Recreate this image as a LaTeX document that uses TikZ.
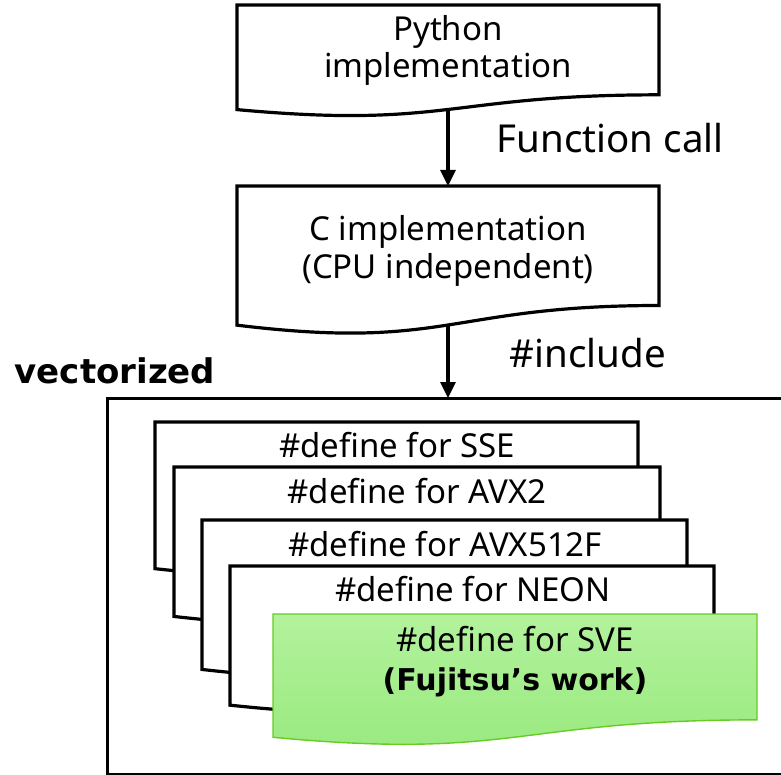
\documentclass[tikz,border=0pt]{standalone}
\usepackage{fontspec}
\setmainfont{Noto Sans}
\newfontfamily\boldfam{DejaVu Sans}
\usetikzlibrary{calc,arrows.meta}
\definecolor{svetop}{HTML}{B2F29C}
\definecolor{svebot}{HTML}{98E97E}
\definecolor{sveline}{HTML}{66CC22}
\newcommand\docpath[2]{%
  \path[#2] (#1.north west) -- (#1.north east) -- ($(#1.north east)!0.802!(#1.south east)$)
    .. controls ($(#1.north)!0.802!(#1.south)$) and ($(#1.north)!1.107!(#1.south)$) ..
    ($(#1.north west)!0.934!(#1.south west)$) -- cycle;}
\tikzset{
  frame/.style={draw=none, inner sep=0pt, outer sep=0pt, anchor=north west},
  docline/.style={draw=black, line width=3.2pt, fill=white, line join=miter},
  svedoc/.style={draw=sveline, line width=1.4pt, top color=svetop, bottom color=svebot},
  lbl/.style={anchor=base, inner sep=0pt, font=\fontsize{33}{38}\selectfont},
  biglbl/.style={anchor=base, inner sep=0pt, font=\fontsize{38.5}{44}\selectfont},
  blbl/.style={anchor=base, inner sep=0pt},
  arr/.style={line width=3.2pt, -{Triangle[width=15pt,length=16pt]}},
}
\begin{document}
\begin{tikzpicture}[x=1pt,y=-1pt]
\useasboundingbox (0,0) rectangle (781,775);
% Python box
\node[frame, minimum width=422pt, minimum height=112pt] (py) at (237,5) {};
\docpath{py}{docline}
\node[lbl] (pyt1) at (448,41) {Python};
\node[lbl] (pyt2) at (448,78) {implementation};
% C box
\node[frame, minimum width=422pt, minimum height=149pt] (cb) at (237,186) {};
\docpath{cb}{docline}
\node[lbl] (ct1) at (448,241) {C implementation};
\node[lbl] (ct2) at (448,279) {(CPU independent)};
% arrows
\coordinate (pybot) at ($(py.north)!0.933!(py.south)$);
\coordinate (cbot) at ($(cb.north)!0.933!(cb.south)$);
\draw[arr] (pybot) -- (cb.north);
\node[biglbl] (fc) at (610,153) {Function call};
% vectorized frame
\node[frame, draw=black, line width=3pt, minimum width=700pt, minimum height=376pt] (vec) at (107,398) {};
\draw[arr] (cbot) -- (cbot |- vec.north);
\node[biglbl] (inc) at (588,367) {\#include};
\node[blbl, font=\boldfam\bfseries\fontsize{34}{40}\selectfont] (vlab) at (115,383) {vectorized};
% stacked documents
\node[frame, minimum width=483pt, minimum height=157pt] (sse) at (155,422) {};
\docpath{sse}{docline}
\node[lbl] (sset) at (397,457) {\#define for SSE};
\node[frame, minimum width=486pt, minimum height=160pt] (avx2) at (174,467) {};
\docpath{avx2}{docline}
\node[lbl] (avx2t) at (417,503) {\#define for AVX2};
\node[frame, minimum width=485pt, minimum height=160pt] (avx512) at (202,520) {};
\docpath{avx512}{docline}
\node[lbl] (avx512t) at (445,556) {\#define for AVX512F};
\node[frame, minimum width=484pt, minimum height=149pt] (neon) at (230,566) {};
\docpath{neon}{docline}
\node[lbl] (neont) at (473,601) {\#define for NEON};
\node[frame, minimum width=484pt, minimum height=132pt] (sve) at (273,614) {};
\docpath{sve}{svedoc}
\node[lbl] (svet1) at (515,651) {\#define for SVE};
\node[blbl, font=\boldfam\bfseries\fontsize{30}{36}\selectfont] (svet2) at (515,690) {(Fujitsu’s work)};
\end{tikzpicture}
\end{document}
